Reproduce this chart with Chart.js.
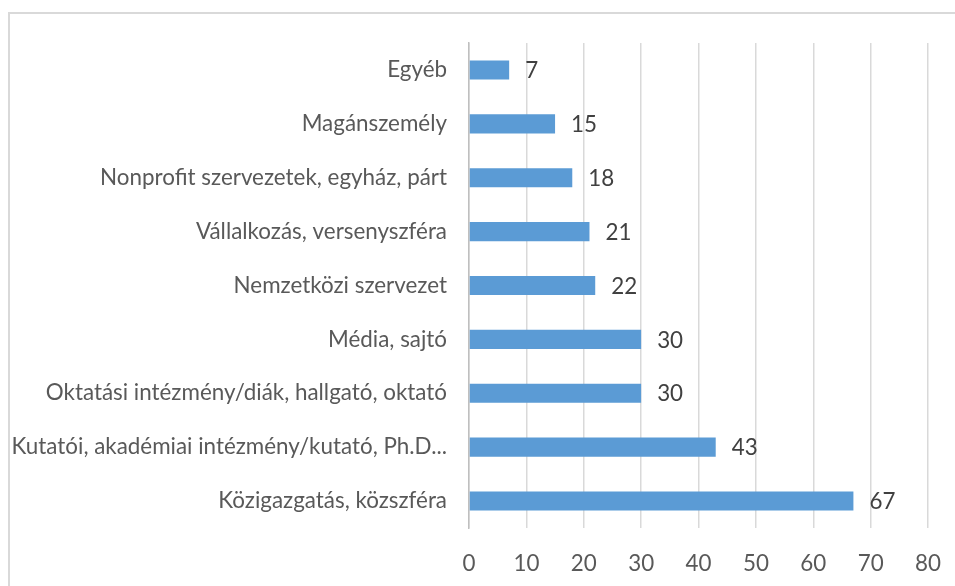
<!DOCTYPE html>
<html><head><meta charset="utf-8">
<script src="https://cdn.jsdelivr.net/npm/chart.js@4/dist/chart.umd.min.js"></script>
<style>
html,body{margin:0;padding:0;background:#fff;overflow:hidden;width:955px;height:586px;}
#wrap{position:absolute;left:0;top:0;width:955px;height:586px;overflow:hidden;}
#frame{position:absolute;left:8px;top:12px;width:1000px;height:1000px;border:2px solid #d9d9d9;box-sizing:border-box;}
canvas{position:absolute;left:0;top:0;}
</style></head>
<body>
<div id="wrap"><div id="frame"></div><canvas id="c" width="955" height="586"></canvas></div>
<script>
const categories = [
  "Egyéb",
  "Magánszemély",
  "Nonprofit szervezetek, egyház, párt",
  "Vállalkozás, versenyszféra",
  "Nemzetközi szervezet",
  "Média, sajtó",
  "Oktatási intézmény/diák, hallgató, oktató",
  "Kutatói, akadémiai intézmény/kutató, Ph.D...",
  "Közigazgatás, közszféra"
];
const values = [7, 15, 18, 21, 22, 30, 30, 43, 67];
const xTicks = [0, 10, 20, 30, 40, 50, 60, 70, 80];

const FONT = 'Lato';
const mctx = document.createElement('canvas').getContext('2d');
mctx.font = '20px ' + FONT;
const w20 = mctx.measureText("Oktatási intézmény/diák, hallgató, oktató").width;
const fs = Math.round(20 * 402 / w20 * 10) / 10;

const dataLabels = {
  id: 'dataLabels',
  afterDatasetsDraw(chart) {
    const ctx = chart.ctx;
    const meta = chart.getDatasetMeta(0);
    ctx.save();
    ctx.font = fs + 'px ' + FONT;
    ctx.fillStyle = '#404040';
    ctx.textAlign = 'left';
    ctx.textBaseline = 'middle';
    meta.data.forEach((bar, i) => {
      ctx.fillText(String(values[i]), bar.x + 16, bar.y + 1);
    });
    ctx.restore();
  }
};

new Chart(document.getElementById('c'), {
  type: 'bar',
  data: {
    labels: categories,
    datasets: [{
      data: values,
      backgroundColor: '#5b9bd5',
      borderColor: '#5b9bd5',
      borderWidth: 0,
      categoryPercentage: 1,
      barPercentage: 0.355
    }]
  },
  options: {
    indexAxis: 'y',
    responsive: false,
    animation: false,
    devicePixelRatio: 1,
    layout: { padding: { left: 0, right: 27, top: 43, bottom: 0 } },
    plugins: { legend: { display: false }, tooltip: { enabled: false } },
    scales: {
      x: {
        min: 0, max: 80,
        afterBuildTicks(scale) { scale.ticks = xTicks.map(v => ({ value: v })); },
        afterFit(scale) { scale.height = 58; scale.paddingRight = 0; scale.paddingLeft = 0; },
        grid: { color: '#d9d9d9', lineWidth: 1.5, drawTicks: false },
        border: { display: false },
        ticks: { color: '#595959', font: { family: FONT, size: fs }, padding: 22 }
      },
      y: {
        afterFit(scale) { scale.width = 469; },
        grid: { display: false, drawTicks: false },
        border: { display: true, color: '#bfbfbf', width: 1.5 },
        ticks: { color: '#595959', font: { family: FONT, size: fs }, padding: 22, autoSkip: false }
      }
    }
  },
  plugins: [dataLabels]
});
</script>
</body></html>
